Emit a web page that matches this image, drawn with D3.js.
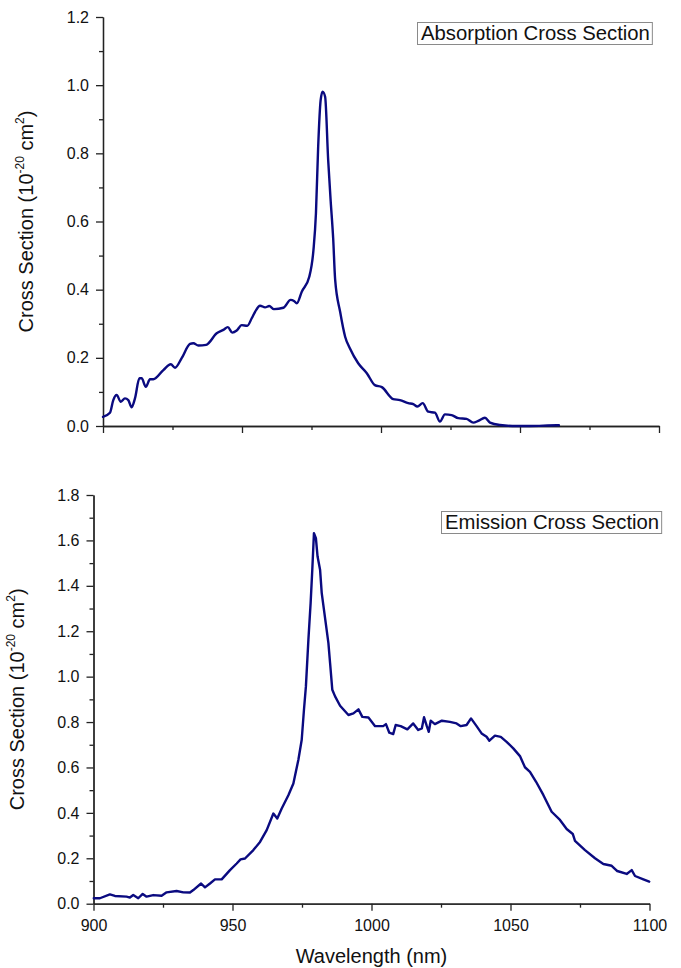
<!DOCTYPE html>
<html>
<head>
<meta charset="utf-8">
<script src="https://cdn.jsdelivr.net/npm/d3@7"></script>
<style>
  body { margin: 0; background: #fff; }
  svg { display: block; font-family: "Liberation Sans", Arial, sans-serif; }
</style>
</head>
<body>
<svg id="chart" width="681" height="968"></svg>
<script>
// ---- Data ----
const absWl  = [900,902.5,903.7,904.9,906.4,907.9,909.1,910.3,911.5,913.1,913.9,915.4,916.9,918.1,921.7,924.4,925.9,928.3,931.3,932.5,934.3,937.1,940.9,943.3,944.9,946.5,948.1,949.9,951.9,953.5,954.7,956.5,958.3,959.8,961.5,964.9,967.5,968.7,969.7,971.5,974.2,975.7,976.6,977.4,978.3,979,979.9,981,981.9,982.8,983.5,985.3,987.1,988.8,991.8,994.9,997.8,1000.3,1004.4,1006.8,1009.8,1011.6,1013.1,1015,1017,1019.4,1021.2,1023,1025.4,1027.8,1030.8,1033.2,1035,1037.4,1039.2,1042.8,1048.8,1053.6,1063.2,1064];
const absVal = [0.027,0.039,0.076,0.091,0.071,0.081,0.076,0.055,0.081,0.14,0.14,0.115,0.137,0.137,0.164,0.181,0.171,0.199,0.241,0.243,0.236,0.238,0.272,0.282,0.29,0.274,0.28,0.296,0.294,0.316,0.335,0.353,0.348,0.352,0.343,0.347,0.37,0.367,0.36,0.394,0.438,0.516,0.624,0.82,0.957,0.981,0.966,0.78,0.66,0.55,0.43,0.335,0.262,0.228,0.184,0.155,0.12,0.114,0.079,0.076,0.067,0.064,0.057,0.067,0.042,0.039,0.013,0.034,0.032,0.023,0.021,0.01,0.015,0.024,0.01,0.003,0.0,0.0,0.002,0.002];

const emWl  = [900.1,902.3,905.9,907.7,911.9,913.1,914.3,916.1,917.7,919.1,921.5,924.5,926.3,929.9,932.3,934.7,935.9,938.7,940.1,941.9,943.7,946.1,949.1,951.5,952.9,954.5,957.5,959.9,962.3,964.7,966.1,967.7,970.1,971.9,973.7,974.9,975.7,976.4,977.3,978.1,978.7,979.3,980,980.6,981.5,982.1,984.5,985.1,985.9,986.9,988.7,991.7,993.5,995.3,996.7,998.9,1001.3,1004.2,1005.2,1006.4,1007.8,1008.7,1010.5,1012.9,1015,1016.8,1018.1,1018.9,1019.9,1020.6,1021.3,1022.8,1025.3,1028.2,1030.6,1032.1,1034.2,1035.8,1037.8,1039.6,1041.4,1042.4,1044.4,1046.5,1048.6,1051,1053.4,1055.2,1057,1059.2,1061.8,1064.8,1067.8,1070.2,1072.4,1073.2,1076.8,1080.4,1083.4,1086.4,1088.4,1091.8,1093.6,1094.8,1097.8,1099.9];
const emVal = [0.024,0.024,0.041,0.034,0.031,0.027,0.038,0.024,0.043,0.031,0.038,0.035,0.05,0.056,0.05,0.049,0.06,0.089,0.072,0.089,0.107,0.107,0.148,0.177,0.195,0.199,0.236,0.272,0.324,0.397,0.375,0.419,0.478,0.529,0.634,0.722,0.853,0.956,1.162,1.324,1.471,1.632,1.61,1.529,1.471,1.368,1.148,1.06,0.942,0.913,0.872,0.831,0.838,0.856,0.823,0.82,0.782,0.782,0.791,0.753,0.747,0.787,0.782,0.768,0.794,0.765,0.772,0.821,0.782,0.757,0.806,0.791,0.806,0.801,0.794,0.782,0.787,0.816,0.782,0.75,0.735,0.718,0.74,0.735,0.713,0.684,0.65,0.601,0.581,0.537,0.479,0.405,0.369,0.329,0.307,0.277,0.236,0.2,0.175,0.167,0.144,0.131,0.148,0.122,0.107,0.097];

const xMajor = [900, 950, 1000, 1050, 1100];
const xMinor = [925, 975, 1025, 1075];
const absYMajor = [0.0, 0.2, 0.4, 0.6, 0.8, 1.0, 1.2];
const absYMinor = [0.1, 0.3, 0.5, 0.7, 0.9, 1.1];
const emYMajor = [0.0, 0.2, 0.4, 0.6, 0.8, 1.0, 1.2, 1.4, 1.6, 1.8];
const emYMinor = [0.1, 0.3, 0.5, 0.7, 0.9, 1.1, 1.3, 1.5, 1.7];

const absLabel = "Absorption Cross Section";
const emLabel = "Emission Cross Section";
const xTitle = "Wavelength (nm)";

// ---- Drawing ----
const svg = d3.select("#chart");
const lineColor = "#0a0a80";
const axisColor = "#222";

function panel(opts) {
  const x = d3.scaleLinear().domain([900, 1100]).range([opts.left, opts.right]);
  const y = d3.scaleLinear().domain([0, opts.yMax]).range([opts.bottom, opts.top]);
  const g = svg.append("g");

  g.append("g").attr("transform", `translate(0,${opts.bottom})`)
    .call(d3.axisBottom(x).tickValues(xMinor).tickSize(4).tickSizeOuter(0).tickFormat(""));
  g.append("g").attr("transform", `translate(0,${opts.bottom})`)
    .call(d3.axisBottom(x).tickValues(xMajor).tickSize(7).tickSizeOuter(0).tickPadding(9)
      .tickFormat(opts.xLabels ? d3.format("d") : ""));
  g.append("g").attr("transform", `translate(${opts.left},0)`)
    .call(d3.axisLeft(y).tickValues(opts.yMinor).tickSize(4).tickSizeOuter(0).tickFormat(""));
  g.append("g").attr("transform", `translate(${opts.left},0)`)
    .call(d3.axisLeft(y).tickValues(opts.yMajor).tickSize(7).tickSizeOuter(0).tickPadding(7)
      .tickFormat(d3.format(".1f")));

  g.selectAll(".domain, .tick line").attr("stroke", axisColor).attr("stroke-width", 1.3);
  g.selectAll(".tick text").attr("fill", "#111").style("font-size", "16px")
    .style("font-family", "'Liberation Sans', Arial, sans-serif");

  const data = opts.wl.map((w, i) => [w, opts.val[i]]);
  g.append("path").datum(data)
    .attr("fill", "none").attr("stroke", lineColor).attr("stroke-width", 2.4)
    .attr("stroke-linejoin", "round").attr("stroke-linecap", "round")
    .attr("d", d3.line().x(d => x(d[0])).y(d => y(d[1])).curve(opts.curve));

  const cy = (opts.top + opts.bottom) / 2;
  const t = g.append("text")
    .attr("transform", `translate(${opts.left - 70},${cy}) rotate(-90)`)
    .attr("text-anchor", "middle").attr("fill", "#111").style("font-size", "20px");
  t.append("tspan").text("Cross Section (10");
  t.append("tspan").text("-20").style("font-size", "12px").attr("dy", -9);
  t.append("tspan").text(" cm").style("font-size", "20px").attr("dy", 9);
  t.append("tspan").text("2").style("font-size", "12px").attr("dy", -9);
  t.append("tspan").text(")").style("font-size", "20px").attr("dy", 9);

  const lg = g.append("g");
  const rect = lg.append("rect");
  const lt = lg.append("text").attr("x", opts.legX).attr("y", opts.legY)
    .attr("fill", "#111").style("font-size", "20.3px").text(opts.legend);
  const bb = lt.node().getBBox();
  rect.attr("x", bb.x - 3.5).attr("y", bb.y + 0.5)
    .attr("width", bb.width + 6).attr("height", bb.height)
    .attr("fill", "#fff").attr("stroke", "#8a8a8a").attr("stroke-width", 1);
  return { x, y };
}

panel({ left: 103, right: 659, top: 17, bottom: 426, yMax: 1.2,
  yMajor: absYMajor, yMinor: absYMinor, xLabels: false,
  wl: absWl, val: absVal, curve: d3.curveMonotoneX,
  legend: absLabel, legX: 421, legY: 40 });

panel({ left: 93.5, right: 649.5, top: 495, bottom: 903.7, yMax: 1.8,
  yMajor: emYMajor, yMinor: emYMinor, xLabels: true,
  wl: emWl, val: emVal, curve: d3.curveLinear,
  legend: emLabel, legX: 445, legY: 529 });

svg.append("text").attr("x", (93.5 + 649.5) / 2).attr("y", 963)
  .attr("text-anchor", "middle").attr("fill", "#111").style("font-size", "20px")
  .text(xTitle);
</script>
</body>
</html>
